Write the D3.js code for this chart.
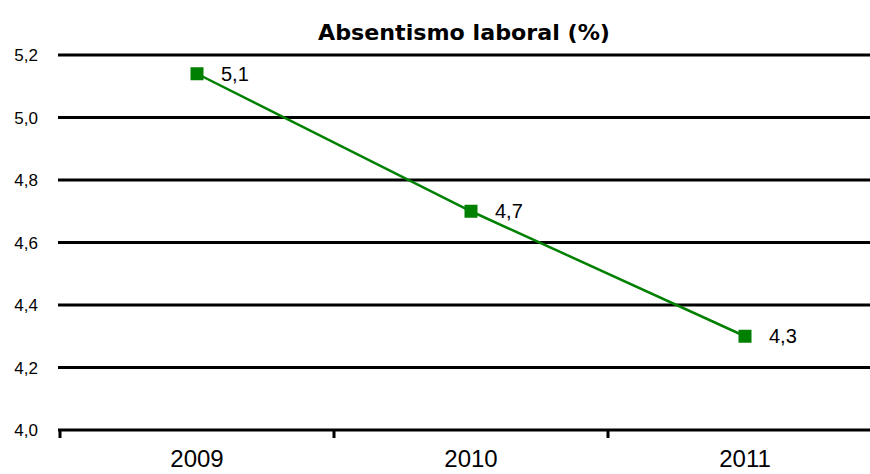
<!DOCTYPE html>
<html>
<head>
<meta charset="utf-8">
<script src="https://cdn.jsdelivr.net/npm/d3@7"></script>
<style>
  html, body { margin: 0; padding: 0; background: #fff; }
  svg { display: block; }
</style>
</head>
<body>
<svg id="chart" width="870" height="474"></svg>
<script>
// Absenteeism rate by year
const years = ["2009", "2010", "2011"];
const absentismo = [5.14, 4.70, 4.30];
const yTicks = [4.0, 4.2, 4.4, 4.6, 4.8, 5.0, 5.2];
const title = "Absentismo laboral (%)";

const svg = d3.select("#chart");
const fmt = v => d3.format(".1f")(v).replace(".", ",");

const x = d3.scaleBand().domain(years).range([60, 882]).padding(0);
const y = d3.scaleLinear().domain([4.0, 5.2]).range([430, 55]);

// horizontal gridlines
svg.append("g")
  .selectAll("line")
  .data(yTicks.slice(1))
  .join("line")
  .attr("x1", 58).attr("x2", 870)
  .attr("y1", d => y(d)).attr("y2", d => y(d))
  .attr("stroke", "#000").attr("stroke-width", 3);

// y axis labels
svg.append("g")
  .selectAll("text")
  .data(yTicks)
  .join("text")
  .attr("x", 38)
  .attr("y", d => y(d))
  .attr("dy", "0.36em")
  .attr("text-anchor", "end")
  .attr("font-family", "Liberation Sans, Arial, sans-serif")
  .attr("font-size", 17)
  .attr("fill", "#000")
  .text(fmt);

// x axis
const xAxis = d3.axisBottom(x).tickSize(0).tickFormat(d => d);
const gx = svg.append("g").attr("transform", `translate(0,${y(4.0)})`).call(xAxis);
gx.select(".domain").attr("stroke", "#000").attr("stroke-width", 3)
  .attr("d", `M58,0H870`);
gx.selectAll("text")
  .attr("font-family", "Liberation Sans, Arial, sans-serif")
  .attr("font-size", 24)
  .attr("fill", "#000")
  .attr("y", 37)
  .attr("dy", 0);

// category boundary ticks
svg.append("g")
  .selectAll("line")
  .data(years)
  .join("line")
  .attr("x1", d => x(d)).attr("x2", d => x(d))
  .attr("y1", y(4.0)).attr("y2", y(4.0) + 8)
  .attr("stroke", "#000").attr("stroke-width", 3);

const cx = d => x(d) + x.bandwidth() / 2;
const pts = years.map((yr, i) => ({ yr, v: absentismo[i] }));

// series line
svg.append("path")
  .datum(pts)
  .attr("fill", "none")
  .attr("stroke", "#008000")
  .attr("stroke-width", 2.5)
  .attr("d", d3.line().x(d => cx(d.yr)).y(d => y(d.v)));

// square markers
const ms = 13;
svg.append("g")
  .selectAll("rect")
  .data(pts)
  .join("rect")
  .attr("x", d => cx(d.yr) - ms / 2)
  .attr("y", d => y(d.v) - ms / 2)
  .attr("width", ms).attr("height", ms)
  .attr("fill", "#008000");

// value labels
svg.append("g")
  .selectAll("text")
  .data(pts)
  .join("text")
  .attr("x", d => cx(d.yr) + 24)
  .attr("y", d => y(d.v))
  .attr("dy", "0.36em")
  .attr("font-family", "Liberation Sans, Arial, sans-serif")
  .attr("font-size", 20)
  .attr("fill", "#000")
  .text(d => fmt(d.v));

// title
svg.append("text")
  .attr("x", 464)
  .attr("y", 40)
  .attr("text-anchor", "middle")
  .attr("font-family", "DejaVu Sans, sans-serif")
  .attr("font-weight", "bold")
  .attr("font-size", 21)
  .attr("textLength", 292)
  .attr("lengthAdjust", "spacingAndGlyphs")
  .attr("fill", "#000")
  .text(title);
</script>
</body>
</html>
